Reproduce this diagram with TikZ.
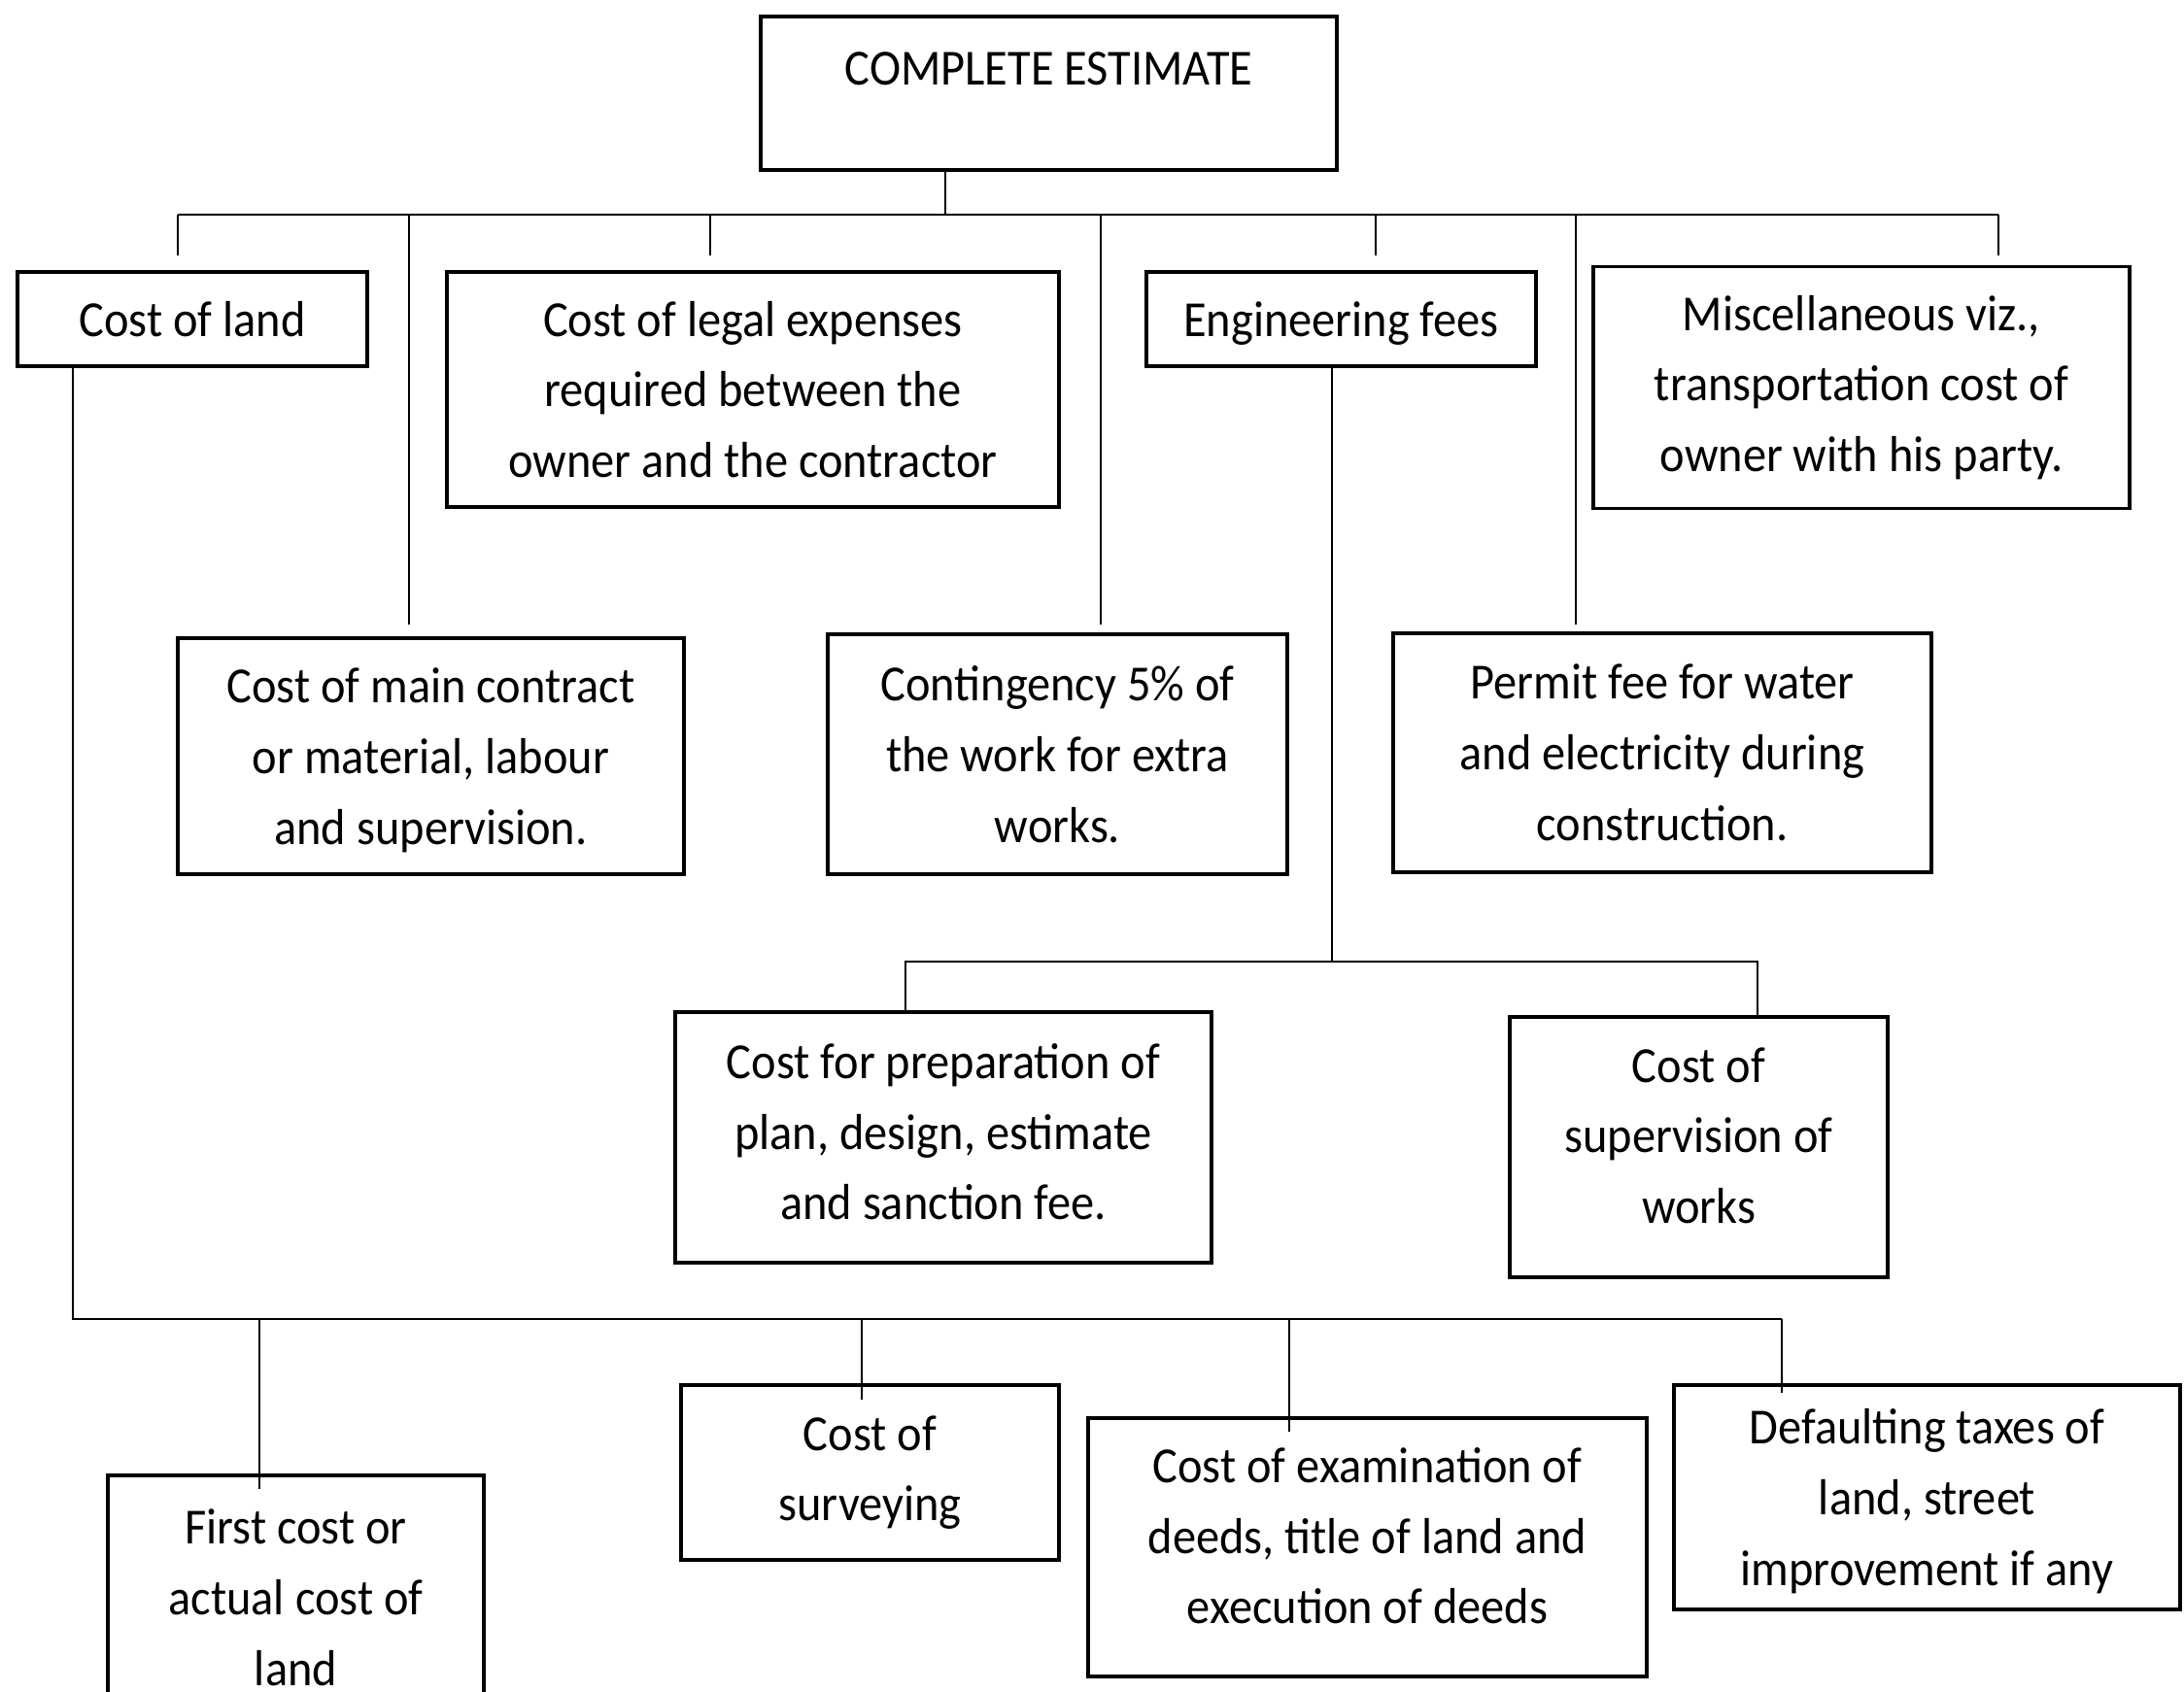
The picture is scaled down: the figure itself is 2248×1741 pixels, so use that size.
\documentclass[tikz,border=0pt]{standalone}
\usepackage{fontspec}
\setmainfont{Carlito}[FakeStretch=0.93]
\tikzset{
  cost box/.style={draw, line width=1pt, align=center, inner sep=0pt,
    font=\fontsize{14.8}{20.7}\selectfont},
  link/.style={line width=0.7pt},
}
\begin{document}
\begin{tikzpicture}[x=0.01cm, y=-0.01cm]
	%\draw [help lines] (0,0) grid[step=100] (2248,1741);
	\clip (0,0) rectangle (2248,1741);
	% top box
	\node[cost box, minimum width=5.93cm, text height=0.70cm, text depth=0.88cm] (total) at (1079.5,96) {COMPLETE ESTIMATE};
	% first row
	\node[cost box, minimum width=3.60cm, minimum height=0.97cm] (land) at (198,328.5) {Cost of land};
	\node[cost box, minimum width=6.30cm, minimum height=2.42cm] (legal) at (775,401) {Cost of legal expenses\\required between the\\owner and the contractor};
	\node[cost box, minimum width=4.01cm, minimum height=0.97cm, text depth=0pt] (eng) at (1380.5,328.5) {Engineering fees};
	\node[cost box, minimum width=5.52cm, minimum height=2.49cm] (misc) at (1916,399) {Miscellaneous viz.,\\transportation cost of\\owner with his party.};
	% second row
	\node[cost box, minimum width=5.21cm, minimum height=2.43cm, text depth=0pt] (main) at (443.5,778.5) {Cost of main contract\\or material, labour\\and supervision.};
	\node[cost box, minimum width=4.73cm, minimum height=2.47cm] (cont) at (1088.5,776.5) {Contingency 5\% of\\the work for extra\\works.};
	\node[cost box, minimum width=5.54cm, minimum height=2.46cm] (permit) at (1711,775) {Permit fee for water\\and electricity during\\construction.};
	% engineering fees
	\node[cost box, minimum width=5.52cm, minimum height=2.58cm, text depth=0.12cm] (prep) at (971,1171) {Cost for preparation of\\plan, design, estimate\\and sanction fee.};
	\node[cost box, minimum width=3.89cm, minimum height=2.68cm, text depth=0.24cm] (superv) at (1748.5,1181) {Cost of\\supervision of\\works};
	% cost of land
	\node[cost box, minimum width=3.87cm, minimum height=2.52cm] (first) at (304.5,1645) {First cost or\\actual cost of\\land};
	\node[cost box, minimum width=3.89cm, minimum height=1.80cm] (survey) at (895.5,1516) {Cost of\\surveying};
	\node[cost box, minimum width=5.75cm, minimum height=2.66cm, text depth=0.24cm] (exam) at (1407.5,1593) {Cost of examination of\\deeds, title of land and\\execution of deeds};
	\node[cost box, minimum width=5.21cm, minimum height=2.31cm, text depth=0pt] (dft) at (1983.5,1541.5) {Defaulting taxes of\\land, street\\improvement if any};

	% top bus
	\coordinate (hub) at (973,221);
	\foreach \x/\n in {183/land, 421/main, 731/legal, 1133/cont, 1416/eng, 1622/permit, 2057/misc}
		\coordinate (j-\n) at (\x,221);
	\draw[link] (total.south -| hub) -- (hub);
	\draw[link] (j-land) -- (j-misc);
	\draw[link, shorten >=0.15cm] (j-land) -- (j-land |- land.north);
	\draw[link, shorten >=0.12cm] (j-main) -- (j-main |- main.north);
	\draw[link, shorten >=0.15cm] (j-legal) -- (j-legal |- legal.north);
	\draw[link, shorten >=0.08cm] (j-cont) -- (j-cont |- cont.north);
	\draw[link, shorten >=0.15cm] (j-eng) -- (j-eng |- eng.north);
	\draw[link, shorten >=0.07cm] (j-permit) -- (j-permit |- permit.north);
	\draw[link, shorten >=0.10cm] (j-misc) -- (j-misc |- misc.north);

	% engineering fees bus
	\coordinate (e-hub) at (1371,990);
	\coordinate (j-prep) at (932,990);
	\coordinate (j-superv) at (1809,990);
	\draw[link] (eng.south -| e-hub) -- (e-hub);
	\draw[link] (j-prep |- prep.north) -- (j-prep) -- (j-superv) -- (j-superv |- superv.north);

	% cost of land bus
	\coordinate (l-corner) at (75,1358);
	\coordinate (j-first) at (267,1358);
	\coordinate (j-survey) at (887,1358);
	\coordinate (j-exam) at (1327,1358);
	\coordinate (j-dft) at (1834,1358);
	\draw[link] (land.south -| l-corner) -- (l-corner) -- (j-dft);
	\draw[link, shorten >=-0.16cm] (j-first) -- (j-first |- first.north);
	\draw[link, shorten >=-0.17cm] (j-survey) -- (j-survey |- survey.north);
	\draw[link, shorten >=-0.16cm] (j-exam) -- (j-exam |- exam.north);
	\draw[link, shorten >=-0.10cm] (j-dft) -- (j-dft |- dft.north);
\end{tikzpicture}
\end{document}
